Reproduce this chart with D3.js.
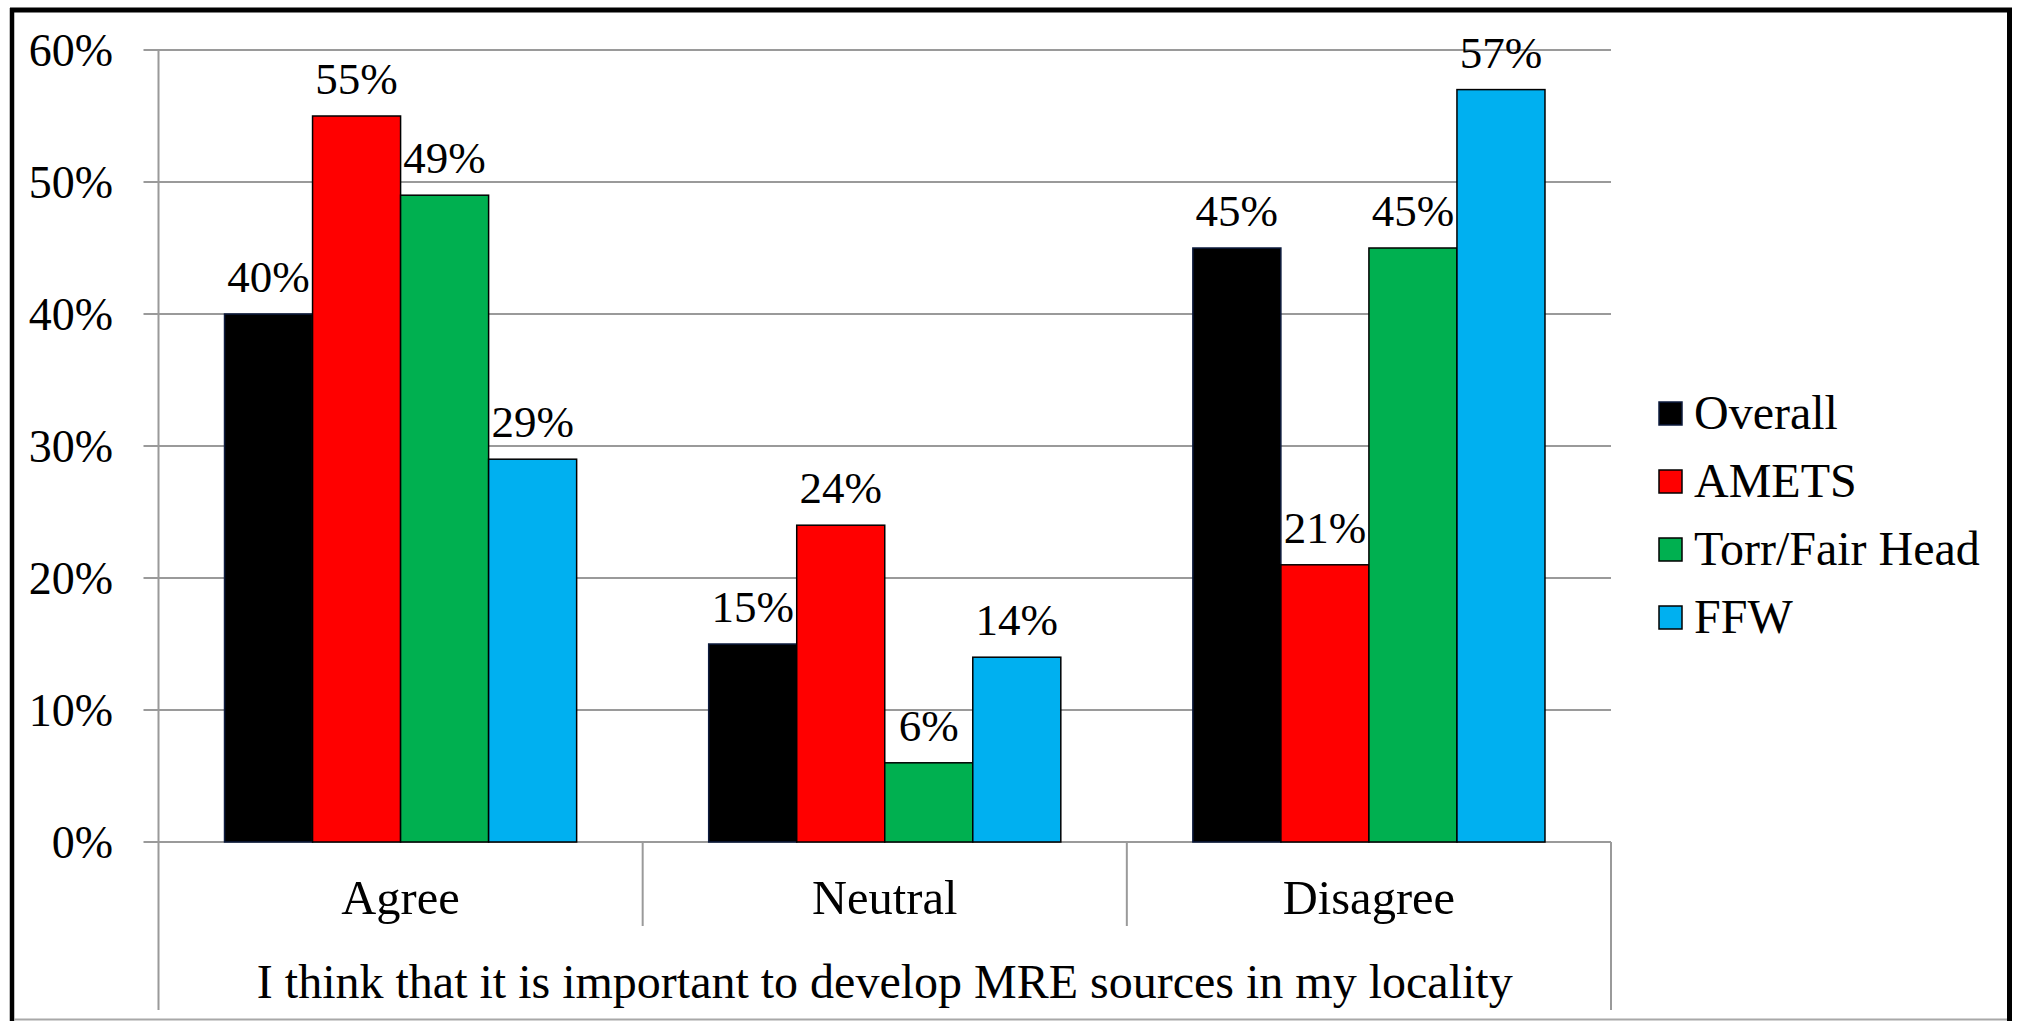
<!DOCTYPE html>
<html>
<head>
<meta charset="utf-8">
<script src="https://cdn.jsdelivr.net/npm/d3@7"></script>
<style>
  html, body { margin: 0; padding: 0; background: #ffffff; }
  svg { display: block; }
</style>
</head>
<body>
<svg id="chart" width="2019" height="1021"></svg>
<script>
// Survey responses by site
const categories = ["Agree", "Neutral", "Disagree"];
const seriesNames = ["Overall", "AMETS", "Torr/Fair Head", "FFW"];
const overall = [0.40, 0.15, 0.45];
const amets = [0.55, 0.24, 0.21];
const torrFairHead = [0.49, 0.06, 0.45];
const ffw = [0.29, 0.14, 0.57];
const yTicks = [0, 0.1, 0.2, 0.3, 0.4, 0.5, 0.6];
const axisTitle = "I think that it is important to develop MRE sources in my locality";

const seriesValues = [overall, amets, torrFairHead, ffw];
const colors = ["#000000", "#FF0000", "#00B050", "#00B0F0"];
const outlines = ["#0D1B3E", "#000000", "#000000", "#000000"];
const FONT = "'Liberation Serif', 'DejaVu Serif', serif";

const svg = d3.select("#chart").attr("font-family", FONT);
const W = 2019, H = 1021;

const plot = { left: 158.5, right: 1611, top: 50, bottom: 842 };

const x0 = d3.scaleBand().domain(categories).range([plot.left, plot.right]).paddingInner(0).paddingOuter(0);
const x1 = d3.scaleBand().domain(seriesNames).range([0, x0.bandwidth()]).paddingInner(0).paddingOuter(0.75);
const y = d3.scaleLinear().domain([0, 0.6]).range([plot.bottom, plot.top]);
const pct = d3.format(".0%");

function label(sel, size) {
  return sel.attr("font-family", FONT).attr("font-size", size).attr("fill", "#000");
}

// Gridlines with short outward ticks
const grid = svg.append("g");
yTicks.forEach(t => {
  grid.append("line")
    .attr("x1", plot.left - 15).attr("x2", plot.right)
    .attr("y1", y(t)).attr("y2", y(t))
    .attr("stroke", "#9A9A9A").attr("stroke-width", 2);
});

// Y tick labels
label(svg.append("g").selectAll("text").data(yTicks).join("text"), 46)
  .attr("x", 113).attr("y", d => y(d))
  .attr("dy", "0.34em")
  .attr("text-anchor", "end")
  .text(d => pct(d));

// Vertical axis line
svg.append("line")
  .attr("x1", plot.left).attr("x2", plot.left)
  .attr("y1", plot.top).attr("y2", 1010)
  .attr("stroke", "#9A9A9A").attr("stroke-width", 2);

// Category separators below the baseline
const bounds = categories.map(c => x0(c)).concat([plot.right]);
bounds.forEach((b, i) => {
  if (i === 0) return;
  const outer = i === bounds.length - 1;
  svg.append("line")
    .attr("x1", b).attr("x2", b)
    .attr("y1", plot.bottom).attr("y2", outer ? 1010 : 926)
    .attr("stroke", "#9A9A9A").attr("stroke-width", 2);
});

// Bars
const groups = svg.append("g").selectAll("g").data(categories).join("g")
  .attr("transform", c => `translate(${x0(c)},0)`);

seriesNames.forEach((s, si) => {
  groups.append("rect")
    .attr("x", x1(s))
    .attr("y", (c, ci) => y(seriesValues[si][ci]))
    .attr("width", x1.bandwidth())
    .attr("height", (c, ci) => y(0) - y(seriesValues[si][ci]))
    .attr("fill", colors[si])
    .attr("stroke", outlines[si])
    .attr("stroke-width", 1.5);
  label(groups.append("text"), 45)
    .attr("x", x1(s) + x1.bandwidth() / 2)
    .attr("y", (c, ci) => y(seriesValues[si][ci]) - 22)
    .attr("text-anchor", "middle")
    .text((c, ci) => pct(seriesValues[si][ci]));
});

// Category labels
label(svg.append("g").selectAll("text").data(categories).join("text"), 48.5)
  .attr("x", c => x0(c) + x0.bandwidth() / 2)
  .attr("y", 914)
  .attr("text-anchor", "middle")
  .text(c => c);

// Axis title
label(svg.append("text"), 48)
  .attr("x", (plot.left + plot.right) / 2)
  .attr("y", 998)
  .attr("text-anchor", "middle")
  .text(axisTitle);

// Legend
const legend = svg.append("g").attr("transform", "translate(1659,413)");
seriesNames.forEach((s, i) => {
  const row = legend.append("g").attr("transform", `translate(0,${i * 68})`);
  row.append("rect")
    .attr("x", 0).attr("y", -11)
    .attr("width", 23).attr("height", 23)
    .attr("fill", colors[i]).attr("stroke", outlines[i]).attr("stroke-width", 1.5);
  label(row.append("text"), 48)
    .attr("x", 35).attr("y", 0).attr("dy", "0.34em")
    .text(s);
});

// Outer frame
svg.append("line").attr("x1", 12).attr("x2", 12).attr("y1", 8).attr("y2", H)
  .attr("stroke", "#000").attr("stroke-width", 4.5);
svg.append("line").attr("x1", 10).attr("x2", 2012).attr("y1", 10).attr("y2", 10)
  .attr("stroke", "#000").attr("stroke-width", 5);
svg.append("line").attr("x1", 2009.5).attr("x2", 2009.5).attr("y1", 8).attr("y2", H)
  .attr("stroke", "#000").attr("stroke-width", 5);
svg.append("line").attr("x1", 14).attr("x2", 2007).attr("y1", 1019.5).attr("y2", 1019.5)
  .attr("stroke", "#A8A8A8").attr("stroke-width", 2);
</script>
</body>
</html>
